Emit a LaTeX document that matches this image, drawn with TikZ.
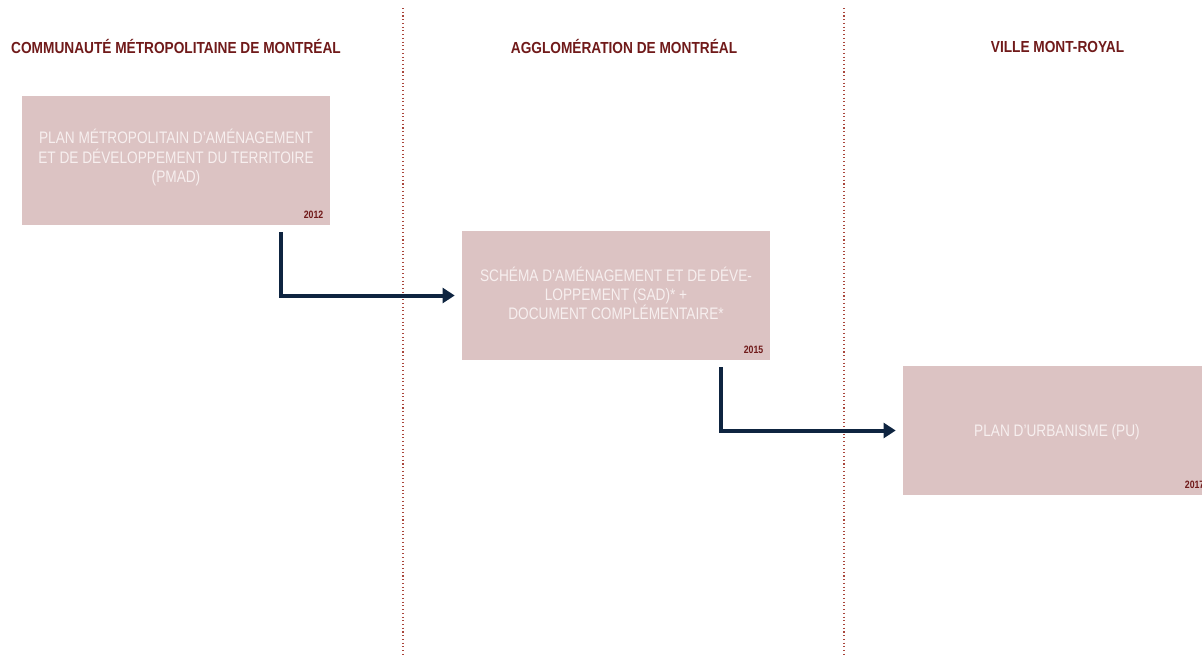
\documentclass[tikz,border=0pt]{standalone}
\usepackage{fontspec}
\setmainfont{Liberation Sans}
\newfontfamily\narrow[FakeStretch=0.82]{Liberation Sans}
\newfontfamily\narrowhead[FakeStretch=0.855]{Liberation Sans}
\usetikzlibrary{arrows.meta,positioning}
\definecolor{headR}{RGB}{112,26,26}
\definecolor{planP}{RGB}{220,195,195}
\definecolor{planT}{RGB}{247,239,239}
\definecolor{flowB}{RGB}{14,36,64}
\definecolor{sepR}{RGB}{170,70,60}

\begin{document}
\begin{tikzpicture}[
  x=0.75pt, y=-0.75pt,
  head/.style={font=\narrowhead\bfseries\fontsize{12}{14}\selectfont, text=headR, inner sep=0pt},
  plan/.style={rectangle, fill=planP, minimum width=231pt, minimum height=96.75pt,
    inner sep=0pt, align=center, text=planT, font=\narrow\fontsize{12.5}{14.4}\selectfont},
  yr/.style={font=\narrow\bfseries\fontsize{8}{9}\selectfont, text=headR, inner sep=0pt, anchor=base east},
  flow/.style={draw=flowB, line width=3pt, -{Triangle[length=9pt, width=11pt]}},
  sep/.style={draw=sepR, dotted, line width=0.8pt}]

  \useasboundingbox (0,0) rectangle (1202,657);
  \clip (0,0) rectangle (1202,657);

  % column separators
  \draw[sep] (403,8) -- (403,657);
  \draw[sep] (844,8) -- (844,657);

  % column headings
  \node[head] (cmm)   at (176,46.5) {COMMUNAUTÉ MÉTROPOLITAINE DE MONTRÉAL};
  \node[head] (agglo) at (624,46.5) {AGGLOMÉRATION DE MONTRÉAL};
  \node[head] (tmr)   at (1057.5,46.5) {VILLE MONT-ROYAL};

  % plans
  \node[plan, text depth=7pt] (pmad) at (176,160.5) {PLAN MÉTROPOLITAIN D’AMÉNAGEMENT\\ET DE DÉVELOPPEMENT DU TERRITOIRE\\(PMAD)};
  \node[plan, text depth=3pt] (sad)  at (616,295.5) {SCHÉMA D’AMÉNAGEMENT ET DE DÉVE-\\LOPPEMENT (SAD)* +\\DOCUMENT COMPLÉMENTAIRE*};
  \node[plan, text depth=0pt] (pu)   at (1057,430.5) {PLAN D’URBANISME (PU)};

  % years
  \node[yr] (y12) at ([xshift=-5pt, yshift=5pt]pmad.south east) {2012};
  \node[yr] (y15) at ([xshift=-5pt, yshift=5pt]sad.south east) {2015};
  \node[yr] (y17) at ([xshift=-5pt, yshift=5pt]pu.south east) {2017};

  % links
  \draw[flow] ([xshift=78.75pt, yshift=-5.25pt]pmad.south) |- ([xshift=-5.25pt]sad.west);
  \draw[flow] ([xshift=78.75pt, yshift=-5.25pt]sad.south) |- ([xshift=-5.25pt]pu.west);
\end{tikzpicture}
\end{document}
